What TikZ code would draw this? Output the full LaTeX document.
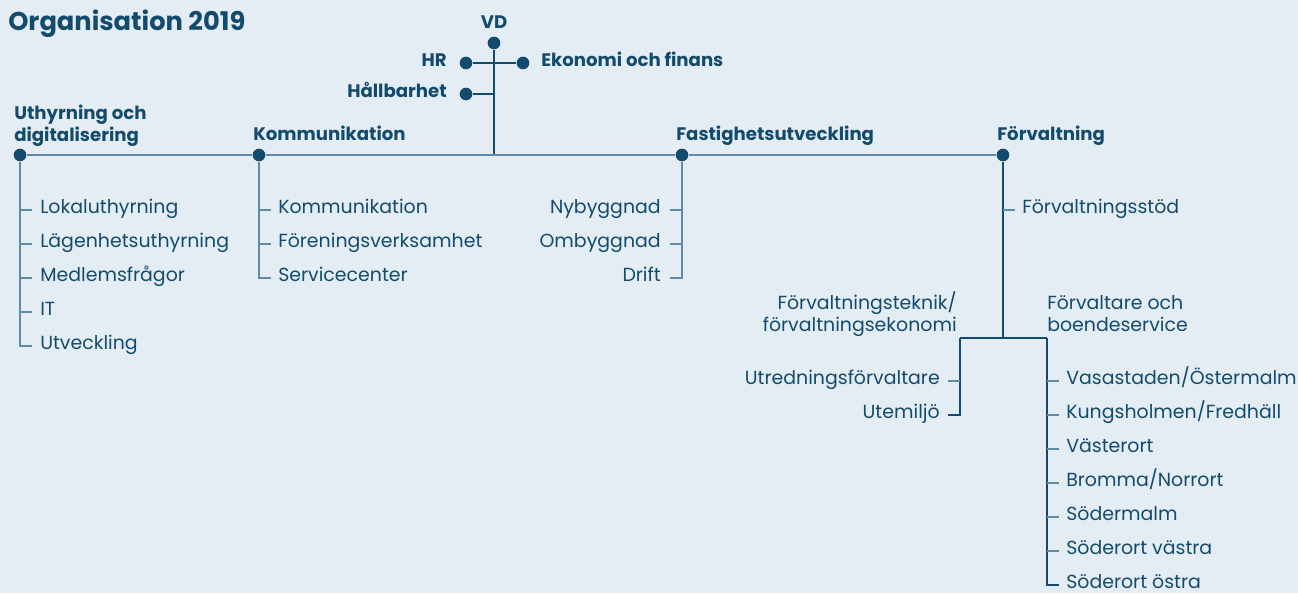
\documentclass[tikz,border=0pt]{standalone}
\usepackage{fontspec}
\setmainfont{Poppins}
\usetikzlibrary{positioning}

\definecolor{navy}{HTML}{124B6D}
\definecolor{steel}{HTML}{5E8BA8}
\definecolor{paper}{HTML}{E4EDF3}

\tikzset{
  item/.style={text=navy, inner sep=0pt, font=\fontsize{14.2}{16.5}\selectfont},
  head/.style={item, font=\bfseries\fontsize{13.6}{16}\selectfont},
  dot/.style={circle, fill=navy, minimum size=9.5pt, inner sep=0pt},
  trunk/.style={draw=navy, line width=1pt},
  twig/.style={draw=steel, line width=1pt},
}

\begin{document}
\begin{tikzpicture}[x=0.75pt, y=-0.75pt]
      \fill[paper] (0,0) rectangle (1298,593);
      \useasboundingbox (0,0) rectangle (1298,593);
      \node[head, anchor=base west, font=\bfseries\fontsize{19.3}{22}\selectfont] (title) at (8,30) {Organisation 2019};

      % top: VD with staff
      \node[dot] (vd) at (494,43) {};
      \node[head, anchor=base] (vdl) at (494,28) {VD};
      \node[dot] (hr) at (466,63) {};
      \node[dot] (eko) at (523,63) {};
      \node[dot] (hall) at (466,94) {};
      \node[head, anchor=mid east] (hrl) at (447,63) {HR};
      \node[head, anchor=mid west] (ekol) at (541,63) {Ekonomi och finans};
      \node[head, anchor=mid east] (halll) at (447,94) {Hållbarhet};

      % the four divisions
      \node[dot] (uth) at (20,155) {};
      \node[dot] (kom) at (259,155) {};
      \node[dot] (fas) at (682,155) {};
      \node[dot] (forv) at (1003,155) {};
      \node[head, anchor=base west, align=left] (uthl) at (14,141) {Uthyrning och\\digitalisering};
      \node[head, anchor=base west] (koml) at (253,140) {Kommunikation};
      \node[head, anchor=base west] (fasl) at (676,140) {Fastighetsutveckling};
      \node[head, anchor=base west] (forvl) at (997,140) {Förvaltning};

      \draw[trunk] (vd) -- (vd |- uth);
      \draw[trunk] (hr) -- (eko);
      \draw[trunk] (hall) -- (hall -| vd);
      \draw[twig] (uth) -- (kom) -- (fas) -- (forv);

      % Uthyrning och digitalisering
      \foreach \t [count=\i] in {Lokaluthyrning,Lägenhetsuthyrning,Medlemsfrågor,IT,Utveckling}
        \node[item, anchor=mid west] (u\i) at (40,176+34*\i) {\t};
      \draw[twig, shorten >=6pt] (uth) -- (uth |- u5.mid west) -- (u5.mid west);
      \foreach \i in {1,...,4}
        \draw[twig, shorten >=6pt] (uth |- u\i.mid west) -- (u\i.mid west);

      % Kommunikation
      \foreach \t [count=\i] in {Kommunikation,Föreningsverksamhet,Servicecenter}
        \node[item, anchor=mid west] (k\i) at (278,176+34*\i) {\t};
      \draw[twig, shorten >=5pt] (kom) -- (kom |- k3.mid west) -- (k3.mid west);
      \foreach \i in {1,2}
        \draw[twig, shorten >=5pt] (kom |- k\i.mid west) -- (k\i.mid west);

      % Fastighetsutveckling
      \foreach \t [count=\i] in {Nybyggnad,Ombyggnad,Drift}
        \node[item, anchor=mid east] (f\i) at (661,176+34*\i) {\t};
      \draw[twig, shorten >=7pt] (fas) -- (fas |- f3.mid east) -- (f3.mid east);
      \foreach \i in {1,2}
        \draw[twig, shorten >=7pt] (fas |- f\i.mid east) -- (f\i.mid east);

      % Förvaltning
      \node[item, anchor=mid west] (fs) at (1022,210) {Förvaltningsstöd};
      \coordinate (split) at (1003,338);
      \coordinate (sl) at (960,338);
      \coordinate (sr) at (1047,338);
      \draw[trunk] (forv) -- (split);
      \draw[twig, shorten >=5pt] (forv |- fs.mid west) -- (fs.mid west);
      \draw[trunk] (sl) -- (sr);
      \node[item, anchor=base east, align=right] (tekl) at (957,331) {Förvaltningsteknik/\\förvaltningsekonomi};
      \node[item, anchor=base west, align=left] (boel) at (1047,331) {Förvaltare och\\boendeservice};

      \foreach \t [count=\i] in {Utredningsförvaltare,Utemiljö}
        \node[item, anchor=mid east] (t\i) at (940,347+34*\i) {\t};
      \draw[trunk, shorten >=6pt] (sl) -- (sl |- t2.mid east) -- (t2.mid east);
      \draw[twig, shorten >=6pt] (sl |- t1.mid east) -- (t1.mid east);

      \foreach \t [count=\i] in {Vasastaden/Östermalm,Kungsholmen/Fredhäll,Västerort,Bromma/Norrort,Södermalm,Söderort västra,Söderort östra}
        \node[item, anchor=mid west] (b\i) at (1066,347+34*\i) {\t};
      \draw[trunk, shorten >=5pt] (sr) -- (sr |- b7.mid west) -- (b7.mid west);
      \foreach \i in {1,...,6}
        \draw[twig, shorten >=5pt] (sr |- b\i.mid west) -- (b\i.mid west);
\end{tikzpicture}
\end{document}
